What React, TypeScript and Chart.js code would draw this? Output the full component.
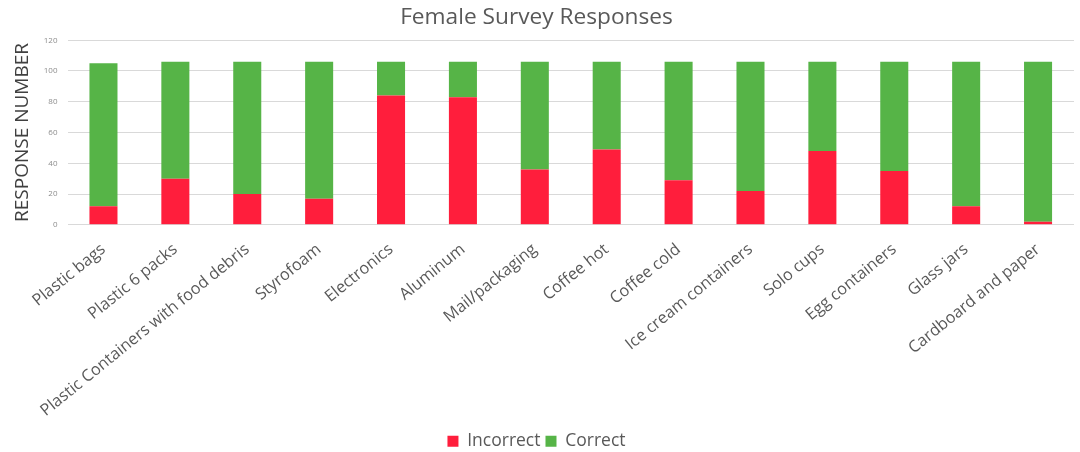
import React, { useEffect, useRef } from "react";
import { Chart, registerables } from "chart.js";

Chart.register(...registerables);

const categories = [
  "Plastic bags",
  "Plastic 6 packs",
  "Plastic Containers with food debris",
  "Styrofoam",
  "Electronics",
  "Aluminum",
  "Mail/packaging",
  "Coffee hot",
  "Coffee cold",
  "Ice cream containers",
  "Solo cups",
  "Egg containers",
  "Glass jars",
  "Cardboard and paper",
];

const incorrect = [12, 30, 20, 17, 84, 83, 36, 49, 29, 22, 48, 35, 12, 2];
const correct = [93, 76, 86, 89, 22, 23, 70, 57, 77, 84, 58, 71, 94, 104];

const yTicks = [0, 20, 40, 60, 80, 100, 120];

const FONT = "'Open Sans', 'Noto Sans', sans-serif";

export default function App() {
  const ref = useRef<HTMLCanvasElement | null>(null);

  useEffect(() => {
    if (!ref.current) return;
    const chart = new Chart(ref.current, {
      type: "bar",
      data: {
        labels: categories,
        datasets: [
          {
            label: "Incorrect",
            data: incorrect,
            backgroundColor: "#FF1E3C",
            borderWidth: 0,
            barPercentage: 0.39,
            categoryPercentage: 1,
          },
          {
            label: "Correct",
            data: correct,
            backgroundColor: "#56B447",
            borderWidth: 0,
            barPercentage: 0.39,
            categoryPercentage: 1,
          },
        ],
      },
      options: {
        animation: false,
        responsive: true,
        maintainAspectRatio: false,
        layout: { padding: { left: -1, right: 6, top: 0, bottom: -8 } },
        plugins: {
          title: {
            display: true,
            text: "Female Survey Responses",
            color: "#595959",
            font: { family: FONT, size: 22.7, weight: "normal" },
            padding: { top: 4, bottom: 9 },
          },
          legend: {
            position: "bottom",
            labels: {
              color: "#595959",
              font: { family: FONT, size: 17.5 },
              boxWidth: 11,
              boxHeight: 11,
              padding: 5,
            },
          },
          tooltip: { enabled: false },
        },
        scales: {
          x: {
            stacked: true,
            grid: { display: false },
            border: { display: false },
            ticks: {
              color: "#595959",
              font: { family: FONT, size: 16.3 },
              minRotation: 39,
              maxRotation: 39,
              autoSkip: false,
              padding: 7,
            },
          },
          y: {
            stacked: true,
            min: 0,
            max: 120,
            afterBuildTicks: (axis: any) => {
              axis.ticks = yTicks.map((v) => ({ value: v }));
            },
            grid: { color: "#D9D9D9", drawTicks: false },
            border: { display: false },
            ticks: {
              color: "#8C8C8C",
              font: { family: FONT, size: 8 },
              padding: 10,
            },
            title: {
              display: true,
              text: "RESPONSE NUMBER",
              color: "#404040",
              font: { family: FONT, size: 19 },
              padding: { top: 12, bottom: 0 },
            },
          },
        },
      },
    });
    return () => chart.destroy();
  }, []);

  return (
    <div style={{ position: "fixed", left: 0, top: 0, width: 1080, height: 452, background: "#fff" }}>
      <canvas ref={ref} />
    </div>
  );
}
